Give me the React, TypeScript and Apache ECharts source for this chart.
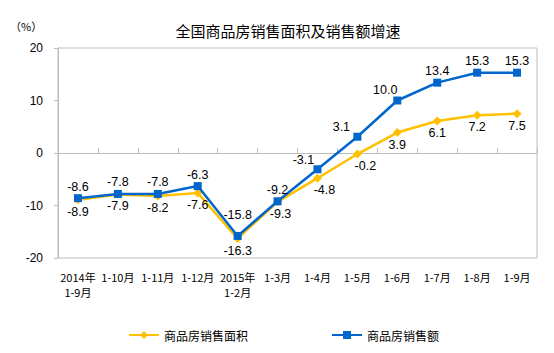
import React, { useEffect, useRef } from "react";
import * as echarts from "echarts";

const categories = [
  "2014年\n1-9月", "1-10月", "1-11月", "1-12月", "2015年\n1-2月", "1-3月",
  "1-4月", "1-5月", "1-6月", "1-7月", "1-8月", "1-9月",
];
const areaGrowth = [-8.9, -7.9, -8.2, -7.6, -16.3, -9.3, -4.8, -0.2, 3.9, 6.1, 7.2, 7.5];
const salesGrowth = [-8.6, -7.8, -7.8, -6.3, -15.8, -9.2, -3.1, 3.1, 10.0, 13.4, 15.3, 15.3];
const seriesNames = ["商品房销售面积", "商品房销售额"];

export default function App() {
  const ref = useRef<HTMLDivElement>(null);
  useEffect(() => {
    const chart = echarts.init(ref.current!, null, { renderer: "svg" });
    const labelFont = "Arial, 'Liberation Sans', sans-serif";
    const cjk = "'Noto Sans CJK SC', sans-serif";
    // label nudges (layout only, by point index)
    const areaNudge: Record<number, number[]> = { 6: [7, 0], 7: [8, 0], 5: [3, 0] };
    const salesNudge: Record<number, number[]> = { 4: [0, -9], 6: [-14, 2], 7: [-16, 2], 8: [-12, 1] };
    const withNudge = (vals: number[], nudge: Record<number, number[]>) =>
      vals.map((v, i) => (nudge[i] ? { value: v, label: { offset: nudge[i] } } : v));
    const fmt = (p: any) => Number(p.value).toFixed(1);
    chart.setOption({
      animation: false,
      backgroundColor: "#fff",
      title: {
        text: "全国商品房销售面积及销售额增速",
        left: 283,
        textAlign: "center",
        top: 18,
        textStyle: { fontSize: 15, fontWeight: "normal", color: "#000", fontFamily: cjk },
      },
      graphic: [
        {
          type: "text",
          left: 10,
          top: 20,
          style: { text: "（%）", fontSize: 11, fill: "#000", fontFamily: cjk },
        },
      ],
      legend: {
        left: 123,
        top: 324,
        itemWidth: 30,
        itemHeight: 10,
        itemGap: 83,
        textStyle: { fontSize: 12, color: "#000", fontFamily: cjk },
        data: seriesNames,
      },
      grid: {
        left: 58,
        right: 17,
        top: 48,
        bottom: 95,
        show: true,
        borderColor: "#bdbdbd",
        borderWidth: 1,
        containLabel: false,
      },
      xAxis: [
        {
          type: "category",
          data: categories,
          position: "bottom",
          boundaryGap: true,
          axisLine: { show: false, onZero: false },
          axisTick: { show: false },
          axisLabel: {
            interval: 0,
            margin: 11,
            fontSize: 11,
            color: "#000",
            fontFamily: "'Noto Sans CJK SC', serif",
            lineHeight: 15,
          },
        },
        {
          type: "category",
          data: categories,
          position: "bottom",
          boundaryGap: true,
          axisLine: { show: true, onZero: true, lineStyle: { color: "#bdbdbd", width: 1 } },
          axisTick: { show: true, inside: true, length: 5, interval: 0, lineStyle: { color: "#bdbdbd" } },
          axisLabel: { show: false },
        },
      ],
      yAxis: {
        type: "value",
        min: -20,
        max: 20,
        interval: 10,
        axisLine: { show: true, lineStyle: { color: "#bdbdbd" } },
        axisTick: { show: true, length: 4, lineStyle: { color: "#bdbdbd" } },
        splitLine: { show: false },
        axisLabel: { fontSize: 12, color: "#000", margin: 15, fontFamily: labelFont },
      },
      series: [
        {
          name: seriesNames[0],
          type: "line",
          data: withNudge(areaGrowth, areaNudge),
          xAxisIndex: 0,
          color: "#FFC000",
          symbol: "diamond",
          symbolSize: 9,
          lineStyle: { width: 2.5, color: "#FFC000" },
          itemStyle: { color: "#FFC000" },
          label: {
            show: true,
            position: "bottom",
            distance: 1,
            fontSize: 12.5,
            color: "#000",
            fontFamily: labelFont,
            formatter: fmt,
          },
          z: 2,
        },
        {
          name: seriesNames[1],
          type: "line",
          data: withNudge(salesGrowth, salesNudge),
          xAxisIndex: 0,
          color: "#0066CC",
          symbol: "rect",
          symbolSize: 8,
          lineStyle: { width: 2.5, color: "#0066CC" },
          itemStyle: { color: "#0066CC" },
          label: {
            show: true,
            position: "top",
            distance: 1,
            fontSize: 12.5,
            color: "#000",
            fontFamily: labelFont,
            formatter: fmt,
          },
          z: 3,
        },
      ],
    });
    return () => chart.dispose();
  }, []);
  return <div ref={ref} style={{ width: 554, height: 353, position: "absolute", left: 0, top: 0 }} />;
}
